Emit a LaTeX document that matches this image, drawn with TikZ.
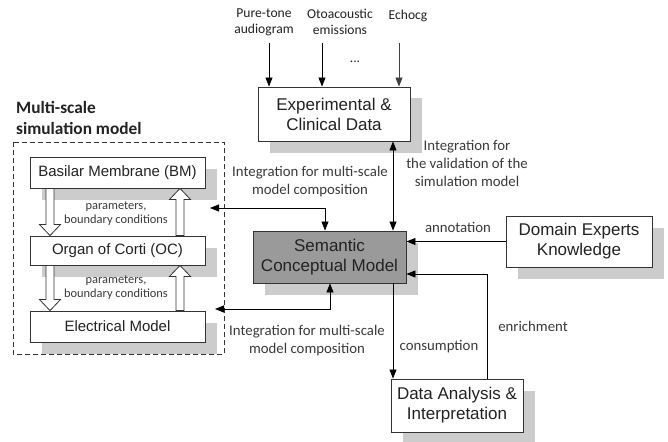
\documentclass[tikz,border=0pt]{standalone}
\usepackage{fontspec}
\setmainfont{Liberation Sans}
\newfontfamily\lblfont{Carlito}
\usetikzlibrary{arrows.meta,shadows,calc}
\definecolor{shadowgray}{HTML}{CCCCCC}
\definecolor{semgray}{HTML}{9A9A9A}
\definecolor{boxline}{HTML}{333333}
\definecolor{lbltext}{HTML}{3A3A3A}
\definecolor{boxtext}{HTML}{222222}
\newcommand\hollowdown[3]{%
  \draw[hollow] let \p1=(#2), \p2=(#3) in
    ({#1pt-4pt},\y1) -- ({#1pt+4pt},\y1) -- ({#1pt+4pt},{\y2+11pt}) -- ({#1pt+10.5pt},{\y2+11pt})
    -- ({#1pt},\y2) -- ({#1pt-10.5pt},{\y2+11pt}) -- ({#1pt-4pt},{\y2+11pt}) -- cycle;}
\newcommand\hollowup[3]{%
  \draw[hollow] let \p1=(#2), \p2=(#3) in
    ({#1pt-4pt},\y1) -- ({#1pt+4pt},\y1) -- ({#1pt+4pt},{\y2-11pt}) -- ({#1pt+10.5pt},{\y2-11pt})
    -- ({#1pt},\y2) -- ({#1pt-10.5pt},{\y2-11pt}) -- ({#1pt-4pt},{\y2-11pt}) -- cycle;}
\tikzset{
  box/.style={draw=boxline, line width=0.9pt, fill=white, inner sep=0pt, align=center,
    text=boxtext, general shadow={fill=shadowgray, shadow xshift=11.5pt, shadow yshift=-11.5pt}},
  bigbox/.style={box, font=\fontsize{17}{20}\selectfont},
  smallbox/.style={box, font=\fontsize{15}{18}\selectfont, minimum width=175pt},
  lbl/.style={inner sep=0pt, align=center, text=lbltext, font=\lblfont\fontsize{14.8}{18}\selectfont},
  smalllbl/.style={inner sep=0pt, align=center, text=lbltext, font=\lblfont\fontsize{12.4}{14}\selectfont},
  toplbl/.style={inner sep=0pt, align=center, text=boxtext, font=\lblfont\fontsize{13.6}{16}\selectfont},
  titlelbl/.style={inner sep=0pt, align=left, text=boxtext, font=\lblfont\bfseries\fontsize{17.3}{21}\selectfont},
  arr/.style={draw=black, line width=0.8pt, -{Triangle[length=9pt,width=7pt]}},
  arrboth/.style={draw=black, line width=0.8pt, {Triangle[length=9pt,width=7pt]}-{Triangle[length=9pt,width=7pt]}},
  hollow/.style={draw=boxline, line width=0.8pt, fill=white},
  group/.style={draw=boxline, line width=0.8pt, dash pattern=on 5pt off 3pt}
}
\begin{document}
\begin{tikzpicture}[x=1pt,y=-1pt]
\useasboundingbox[fill=white] (0,0) rectangle (668,441);

% group
\draw[group] (13,142) rectangle (224,354);
\node[titlelbl, anchor=west] (title) at (16,117.5) {Multi-scale\\simulation model};

% boxes
\node[bigbox, minimum width=152pt, minimum height=54pt] (exp) at (334,114) {Experimental \&\\Clinical Data};
\node[bigbox, fill=semgray, minimum width=153pt, minimum height=52pt] (sem) at (329.5,257) {Semantic\\Conceptual Model};
\node[bigbox, minimum width=146pt, minimum height=51pt] (dom) at (579,241.5) {Domain Experts\\Knowledge};
\node[bigbox, minimum width=132pt, minimum height=53pt] (dat) at (457,405.5) {Data Analysis \&\\Interpretation};

\node[smallbox, minimum height=31pt] (bm) at (117.5,172.5) {Basilar Membrane (BM)};
\node[smallbox, minimum height=29pt] (oc) at (117.5,250.5) {Organ of Corti (OC)};
\node[smallbox, minimum height=31pt] (em) at (117.5,326.5) {Electrical Model};

% hollow arrows
\hollowdown{50}{bm.south}{oc.north}
\hollowup{180}{oc.north}{bm.south}
\hollowdown{50}{oc.south}{em.north}
\hollowup{180}{em.north}{oc.south}
\node[smalllbl] (p1) at (116,214) {parameters,\\boundary conditions};
\node[smalllbl] (p2) at (116,287.5) {parameters,\\boundary conditions};

% top inputs
\node[toplbl] (in1) at (264,22) {Pure-tone\\audiogram};
\node[toplbl] (in2) at (340,22) {Otoacoustic\\emissions};
\node[toplbl] (in3) at (408,16) {Echocg};
\node[toplbl] (dots) at (355,62) {...};
\coordinate (s1) at (269,43);
\coordinate (s2) at (322,43);
\coordinate (s3) at (399,43);
\draw[arr] (s1) -- (s1 |- exp.north);
\draw[arr] (s2) -- (s2 |- exp.north);
\draw[arr, draw=black!75] (s3) -- (s3 |- exp.north);

% exp <-> sem
\coordinate (vx) at (393,0);
\draw[arrboth] (exp.south -| vx) -- (sem.north -| vx);
\node[lbl] (vallbl) at (467,163) {Integration for\\the validation of the\\simulation model};

% sem <-> left group
\coordinate (c1) at (325,208);
\coordinate (c1end) at (210,208);
\draw[arrboth] (c1end) -| (sem.north -| c1);
\node[lbl] (int1) at (310,182) {Integration for multi-scale\\model composition};
\coordinate (c2) at (330,309);
\coordinate (c2end) at (215,309);
\draw[arrboth] (c2end) -| (sem.south -| c2);
\node[lbl] (int2) at (307,341) {Integration for multi-scale\\model composition};

% annotation
\draw[arr] (dom.west) -- (dom.west -| sem.east);
\node[lbl] (ann) at (458,227) {annotation};

% enrichment
\coordinate (enr) at (487,274);
\draw[arr] (dat.north -| enr) |- (sem.east |- enr);
\node[lbl] (enrl) at (533,326) {enrichment};

% consumption
\coordinate (con) at (393,0);
\draw[arr] (sem.south -| con) -- (dat.north -| con);
\node[lbl] (conl) at (439,347) {consumption};
\end{tikzpicture}
\end{document}
